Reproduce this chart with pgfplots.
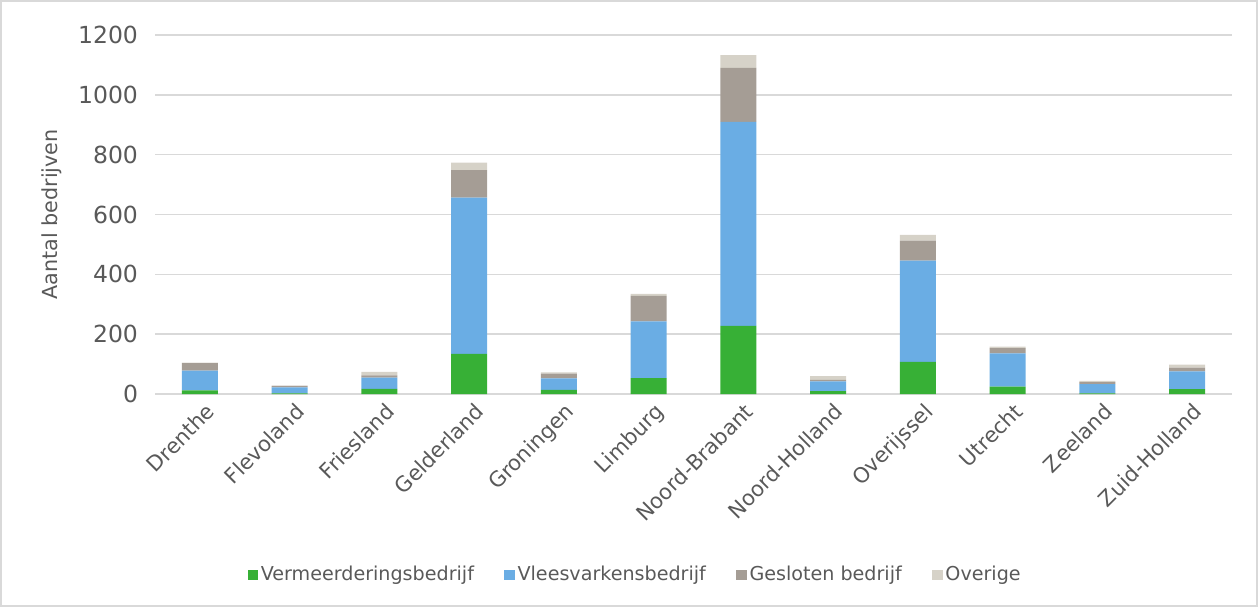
\documentclass[border=0pt]{standalone}
\usepackage{fontspec}
\setmainfont{DejaVu Sans}
\usepackage{pgfplots}
\pgfplotsset{compat=1.18}
\usepackage{pgfplotstable}

\definecolor{cGreen}{HTML}{37B036}
\definecolor{cBlue}{HTML}{6AADE4}
\definecolor{cGray}{HTML}{A59D95}
\definecolor{cLight}{HTML}{D6D2C8}
\definecolor{cText}{HTML}{595959}
\definecolor{cGrid}{HTML}{D9D9D9}

% Aantal bedrijven per provincie, naar bedrijfstype
\pgfplotstableread{
idx verm vlees gesl overig
0   12   66   25   2
1   2    20   5    1
2   17   38   7    12
3   134  522  92   25
4   14   38   16   4
5   53   190  85   7
6   228  682  180  43
7   10   32   5    13
8   107  339  67   19
9   25   111  17   5
10  2    31   7    4
11  16   60   12   10
}\datatable

\begin{document}
\begin{tikzpicture}
\useasboundingbox (-77.5bp,-106.5bp) rectangle (551.5bp,197bp);
\draw[cGrid, line width=0.75bp] (-77.1bp,-106.1bp) rectangle (551.1bp,196.6bp);
\begin{axis}[
  at={(0,0)}, anchor=south west,
  scale only axis,
  width=538.5bp, height=179.5bp,
  ybar stacked,
  bar width=18bp,
  xmin=-0.5, xmax=11.5,
  ymin=0, ymax=1200,
  ytick={0,200,...,1200},
  xtick=data,
  xticklabels={Drenthe,Flevoland,Friesland,Gelderland,Groningen,Limburg,Noord-Brabant,Noord-Holland,Overijssel,Utrecht,Zeeland,Zuid-Holland},
  /pgf/number format/assume math mode=true,
  /pgf/number format/1000 sep={},
  yticklabel style={font=\fontsize{11.8}{14}\selectfont, text=cText, xshift=-5bp},
  xticklabel style={font=\fontsize{10.6}{13}\selectfont, text=cText, rotate=45, anchor=north east, xshift=2.5bp, yshift=-1bp},
  ylabel={Aantal bedrijven},
  ylabel style={font=\fontsize{10.4}{12}\selectfont, text=cText, at={(axis description cs:-0.0956,0.5)}, anchor=center},
  axis x line*=bottom,
  axis y line*=left,
  x axis line style={cGrid, line width=0.9bp, -},
  y axis line style={draw=none},
  major tick length=0pt,
  ymajorgrids,
  grid style={cGrid, line width=0.75bp},
  legend columns=-1,
  legend style={draw=none, fill=none, at={(axis description cs:0.446,-0.504)}, anchor=center,
    font=\fontsize{9.6}{12}\selectfont, text=cText,
    /tikz/every even column/.append style={column sep=14bp},
    nodes={inner sep=1.2bp}},
  legend image code/.code={\fill[#1] (0bp,-2.7bp) rectangle (5.4bp,2.7bp);},
  clip=false,
]
\addplot[fill=cGreen, draw=none] table[x=idx, y=verm] {\datatable};
\addplot[fill=cBlue, draw=none] table[x=idx, y=vlees] {\datatable};
\addplot[fill=cGray, draw=none] table[x=idx, y=gesl] {\datatable};
\addplot[fill=cLight, draw=none] table[x=idx, y=overig] {\datatable};
\legend{Vermeerderingsbedrijf, Vleesvarkensbedrijf, Gesloten bedrijf, Overige}
\end{axis}
\end{tikzpicture}
\end{document}
